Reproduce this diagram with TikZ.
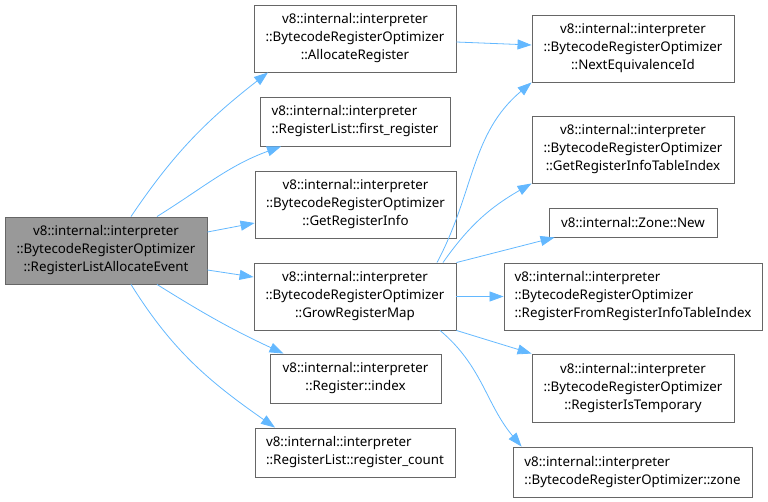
\documentclass[tikz,border=0pt]{standalone}
\usepackage{fontspec}
\setmainfont{Noto Sans}
\usepackage{xcolor}
\definecolor{edgeblue}{RGB}{99,184,255}
\definecolor{boxframe}{RGB}{102,102,102}
\definecolor{mainfill}{RGB}{153,153,153}
\usetikzlibrary{arrows.meta,positioning,calc}
\tikzset{
  cg_fn/.style={rectangle,
    draw=boxframe,fill=white,line width=0.9pt,
    align=center,
    font=\fontsize{13.33}{18}\selectfont,
    inner sep=3pt},
  cg_main/.style={cg_fn,fill=mainfill},
  cg_left/.style={cg_fn,align=left},
  cg_edge/.style={-{Triangle[length=14pt,width=10pt]},
    draw=edgeblue,line width=0.8pt},
}

\begin{document}
\begin{tikzpicture}[x=1pt,y=-1pt]
  \useasboundingbox (0,0) rectangle (768,501);
  % caller
  \node (main) [cg_main, minimum width=202pt, minimum height=67pt] at (106,250.5)
    {v8::internal::interpreter\\ ::BytecodeRegisterOptimizer\\ ::RegisterListAllocateEvent};
  % direct callees
  \node (alloc) [cg_fn, minimum width=202pt, minimum height=67pt] at (355,38.5)
    {v8::internal::interpreter\\ ::BytecodeRegisterOptimizer\\ ::AllocateRegister};
  \node (first) [cg_left, minimum width=190pt, minimum height=49pt] at (355,121.5)
    {v8::internal::interpreter\\ ::RegisterList::first\_register};
  \node (getinfo) [cg_fn, minimum width=201pt, minimum height=67pt] at (355.5,204.5)
    {v8::internal::interpreter\\ ::BytecodeRegisterOptimizer\\ ::GetRegisterInfo};
  \node (grow) [cg_fn, minimum width=202pt, minimum height=67pt] at (355,296.5)
    {v8::internal::interpreter\\ ::BytecodeRegisterOptimizer\\ ::GrowRegisterMap};
  \node (index) [cg_fn, minimum width=171pt, minimum height=49pt] at (355.5,378.5)
    {v8::internal::interpreter\\ ::Register::index};
  \node (count) [cg_left, minimum width=200pt, minimum height=49pt] at (355,452.5)
    {v8::internal::interpreter\\ ::RegisterList::register\_count};
  % second level
  \node (nexteq) [cg_fn, minimum width=202pt, minimum height=67pt] at (633,48.5)
    {v8::internal::interpreter\\ ::BytecodeRegisterOptimizer\\ ::NextEquivalenceId};
  \node (tableidx) [cg_fn, minimum width=202pt, minimum height=67pt] at (633,149.5)
    {v8::internal::interpreter\\ ::BytecodeRegisterOptimizer\\ ::GetRegisterInfoTableIndex};
  \node (zonenew) [cg_fn, minimum width=168pt, minimum height=29pt] at (633,222.5)
    {v8::internal::Zone::New};
  \node (regfrom) [cg_left, minimum width=258pt, minimum height=67pt] at (633,296.5)
    {v8::internal::interpreter\\ ::BytecodeRegisterOptimizer\\ ::RegisterFromRegisterInfoTableIndex};
  \node (istemp) [cg_fn, minimum width=202pt, minimum height=68pt] at (633,388)
    {v8::internal::interpreter\\ ::BytecodeRegisterOptimizer\\ ::RegisterIsTemporary};
  \node (zone) [cg_left, minimum width=239pt, minimum height=50pt] at (632.5,472)
    {v8::internal::interpreter\\ ::BytecodeRegisterOptimizer::zone};

  \draw[cg_edge] ([xshift=25pt]main.north) to[out=56,in=218] ([xshift=-87pt]alloc.south);
  \draw[cg_edge] ([xshift=51pt]main.north) to[out=32,in=200] ([xshift=-74pt]first.south);
  \draw[cg_edge] ([yshift=18.5pt]main.east) -- ([yshift=-18.5pt]getinfo.west);
  \draw[cg_edge] ([yshift=-19.5pt]main.east) -- ([yshift=19.5pt]grow.west);
  \draw[cg_edge] ([xshift=51pt]main.south) to[out=-32,in=155] ([xshift=-72pt]index.north);
  \draw[cg_edge] ([xshift=25pt]main.south) to[out=-58,in=145] ([xshift=-80pt]count.north);
  \draw[cg_edge] ([yshift=-3.5pt]alloc.east) -- ([yshift=3.5pt]nexteq.west);
  \draw[cg_edge] ([xshift=82pt]grow.north) to[out=62,in=220] (nexteq.south west);
  \draw[cg_edge] ([xshift=88pt]grow.north) to[out=55,in=210] (tableidx.south west);
  \draw[cg_edge] (grow.north east) -- ([xshift=6pt]zonenew.south west);
  \draw[cg_edge] (grow.east) -- (regfrom.west);
  \draw[cg_edge] (grow.south east) -- (istemp.north west);
  \draw[cg_edge] ([xshift=85pt]grow.south) to[out=-40,in=130] ([xshift=9pt]zone.north west);
\end{tikzpicture}
\end{document}
